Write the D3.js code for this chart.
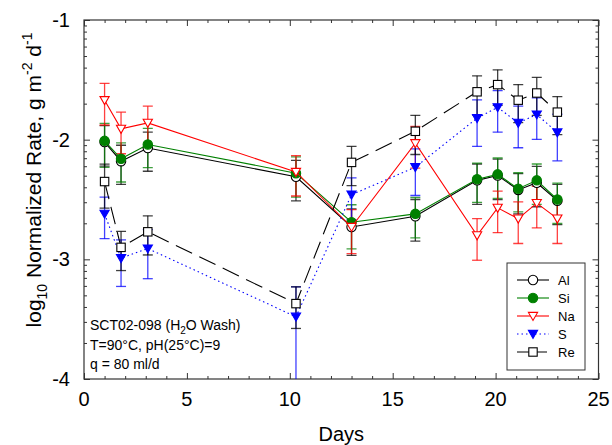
<!DOCTYPE html>
<html>
<head>
<meta charset="utf-8">
<script src="https://cdnjs.cloudflare.com/ajax/libs/d3/7.8.5/d3.min.js"></script>
<style>
    body { margin:0; background:#fff; }
    svg text { font-family: Arial, 'Liberation Sans', sans-serif; fill:#000; }
</style>
</head>
<body>
<svg id="chart" width="612" height="445"></svg>
<script>
(function(window) {
    'use strict';

    // sampling days (x) and log10 normalized rates per element
    var days = [1, 1.8, 3.1, 10.3, 13, 16.1, 19.1, 20.1, 21.1, 22, 23];

    var al = [-2.02, -2.18, -2.07, -2.31, -2.73, -2.64, -2.34, -2.30, -2.42, -2.36, -2.51];
    var si = [-2.01, -2.16, -2.04, -2.28, -2.69, -2.62, -2.33, -2.29, -2.41, -2.34, -2.50];
    var na = [-1.67, -1.91, -1.86, -2.27, -2.73, -2.03, -2.80, -2.57, -2.66, -2.53, -2.66];
    var s  = [-2.62, -2.99, -2.91, -3.48, -2.46, -2.23, -1.82, -1.73, -1.86, -1.79, -1.94];
    var re = [-2.35, -2.90, -2.77, -3.37, -2.19, -1.93, -1.60, -1.54, -1.67, -1.61, -1.77];

    // relative (linear) uncertainty of each rate
    var alErr = [0.37, 0.36, 0.36, 0.37, 0.42, 0.38, 0.37, 0.37, 0.37, 0.37, 0.37];
    var siErr = [0.40, 0.36, 0.36, 0.37, 0.40, 0.37, 0.36, 0.37, 0.36, 0.37, 0.37];
    var naErr = [0.38, 0.38, 0.38, 0.37, 0.40, 0.38, 0.38, 0.38, 0.38, 0.38, 0.38];
    var sErr  = [0.38, 0.42, 0.44, 0.78, 0.38, 0.42, 0.42, 0.38, 0.38, 0.38, 0.42];
    var reErr = [0.40, 0.36, 0.36, 0.38, 0.36, 0.36, 0.36, 0.33, 0.35, 0.35, 0.35];

    var xTicks = [0, 5, 10, 15, 20, 25];
    var yTicks = [-4, -3, -2, -1];

    var series = [
        { name:'Al', y:al, err:alErr, color:'#000000', dash:null,    shape:'circle',   fill:'#fff' },
        { name:'Si', y:si, err:siErr, color:'#008000', dash:null,    shape:'circle',   fill:'#008000' },
        { name:'Na', y:na, err:naErr, color:'#ff0000', dash:null,    shape:'triangle', fill:'#fff' },
        { name:'S',  y:s,  err:sErr,  color:'#0000ff', dash:'1.5,3', shape:'triangle', fill:'#0000ff' },
        { name:'Re', y:re, err:reErr, color:'#000000', dash:'18,8',  shape:'square',   fill:'#fff' }
    ];

    var L = 84, R = 598.5, T = 20, B = 379;

    var svg = d3.select('#chart');

    var x = d3.scaleLinear().domain([0, 25]).range([L, R]);
    var y = d3.scaleLinear().domain([-4, -1]).range([B, T]);

    /******************************************************************
        axes: mirrored ticks on all four sides, log minor ticks on y
     ******************************************************************/
    var xMinor = d3.range(0, 26, 1).filter(function(d){ return d % 5 !== 0; });
    var yMinor = [];
    yTicks.slice(0, -1).forEach(function(d) {
        d3.range(2, 10).forEach(function(k){ yMinor.push(d + Math.log10(k)); });
    });

    function axis(gen, pos, major, minor) {
        var g = svg.append('g').attr('transform', pos);
        g.call(gen.tickValues(minor).tickSize(3).tickFormat(''));
        var h = svg.append('g').attr('transform', pos);
        h.call(gen.tickValues(major).tickSize(6).tickFormat(''));
        [g, h].forEach(function(a) {
            a.select('.domain').remove();
            a.selectAll('line').attr('stroke', '#333');
        });
    }

    axis(d3.axisTop(x),    'translate(0,'+ B +')', xTicks, xMinor);
    axis(d3.axisBottom(x), 'translate(0,'+ T +')', xTicks, xMinor);
    axis(d3.axisRight(y),  'translate('+ L +',0)', yTicks, yMinor);
    axis(d3.axisLeft(y),   'translate('+ R +',0)', yTicks, yMinor);

    svg.append('rect')
        .attr('x', L).attr('y', T)
        .attr('width', R - L).attr('height', B - T)
        .attr('fill', 'none')
        .attr('stroke', '#333')
        .attr('stroke-width', 1.2);

    svg.selectAll('.xl')
        .data(xTicks).enter()
            .append('text')
                .attr('x', function(d){ return x(d); })
                .attr('y', 406)
                .attr('text-anchor', 'middle')
                .style('font-size', '20px')
                .text(function(d){ return d; });

    svg.selectAll('.yl')
        .data(yTicks).enter()
            .append('text')
                .attr('x', 70)
                .attr('y', function(d){ return y(d) + 7; })
                .attr('text-anchor', 'end')
                .style('font-size', '20px')
                .text(function(d){ return d; });

    svg.append('text')
        .attr('x', (L + R) / 2)
        .attr('y', 441)
        .attr('text-anchor', 'middle')
        .style('font-size', '20px')
        .text('Days');

    var yl = svg.append('text')
        .attr('transform', 'translate(41,180) rotate(-90)')
        .attr('text-anchor', 'middle')
        .style('font-size', '21px');
    yl.append('tspan').text('log');
    yl.append('tspan').attr('dy', 6).style('font-size', '14px').text('10');
    yl.append('tspan').attr('dy', -6).text(' Normalized Rate, g m');
    yl.append('tspan').attr('dy', -9).style('font-size', '14px').text('-2');
    yl.append('tspan').attr('dy', 9).text(' d');
    yl.append('tspan').attr('dy', -9).style('font-size', '14px').text('-1');

    /******************************************************************
        data: error bars, lines, markers
     ******************************************************************/
    svg.append('clipPath').attr('id', 'clip')
        .append('rect')
            .attr('x', L).attr('y', T)
            .attr('width', R - L).attr('height', B - T);

    var plot = svg.append('g').attr('clip-path', 'url(#clip)');

    function marker(sel, d) {
        if (d.shape === 'circle')
            sel.append('circle').attr('r', 4.7);
        else if (d.shape === 'square')
            sel.append('rect').attr('x', -4.2).attr('y', -4.2).attr('width', 8.4).attr('height', 8.4);
        else
            sel.append('path').attr('d', 'M-4.6 -3.6 L4.6 -3.6 L0 4.4 Z');

        sel.selectAll('*')
            .attr('fill', d.fill)
            .attr('stroke', d.color)
            .attr('stroke-width', 1.1);
    }

    series.forEach(function(d) {
        var pts = days.map(function(t, i) {
            var e = d.err[i];
            return {
                x: t, y: d.y[i],
                hi: d.y[i] + Math.log10(1 + e),
                lo: e < 1 ? d.y[i] + Math.log10(1 - e) : -10
            };
        });

        var eb = plot.append('g')
            .attr('stroke', d.color)
            .attr('stroke-opacity', 0.75)
            .attr('stroke-width', 1.3);

        pts.forEach(function(p) {
            var cx = x(p.x), y0 = Math.min(y(p.lo), B + 5), y1 = y(p.hi);
            eb.append('line').attr('x1', cx).attr('x2', cx).attr('y1', y0).attr('y2', y1);
            eb.append('line').attr('x1', cx - 5).attr('x2', cx + 5).attr('y1', y1).attr('y2', y1);
            if (y0 < B) eb.append('line').attr('x1', cx - 5).attr('x2', cx + 5).attr('y1', y0).attr('y2', y0);
        });

        d.pts = pts;
    });

    var line = d3.line()
        .x(function(p){ return x(p.x); })
        .y(function(p){ return y(p.y); });

    series.forEach(function(d) {
        plot.append('path')
            .attr('d', line(d.pts))
            .attr('fill', 'none')
            .attr('stroke', d.color)
            .attr('stroke-width', 1.1)
            .attr('stroke-dasharray', d.dash);

        d.pts.forEach(function(p) {
            var m = plot.append('g')
                .attr('transform', 'translate('+ [x(p.x), y(p.y)] +')');
            marker(m, d);
        });
    });

    /******************************************************************
        legend and annotation
     ******************************************************************/
    var leg = svg.append('g').attr('transform', 'translate(507,263)');

    leg.append('rect')
        .attr('width', 78).attr('height', 107)
        .attr('fill', '#fff')
        .attr('stroke', '#333');

    series.forEach(function(d, i) {
        var row = leg.append('g').attr('transform', 'translate(0,'+ (17 + i * 18) +')');
        row.append('line')
            .attr('x1', 10).attr('x2', d.dash === '18,8' ? 44 : 42)
            .attr('stroke', d.color)
            .attr('stroke-width', 1.1)
            .attr('stroke-dasharray', d.dash === '18,8' ? '13,4' : d.dash);
        marker(row.append('g').attr('transform', 'translate(26,0)'), d);
        row.append('text')
            .attr('x', 51).attr('y', 5)
            .style('font-size', '13px')
            .text(d.name);
    });

    var note = svg.append('g').style('font-size', '14px');
    var t1 = note.append('text').attr('x', 90).attr('y', 330);
    t1.append('tspan').text('SCT02-098 (H');
    t1.append('tspan').attr('dy', 4).style('font-size', '10px').text('2');
    t1.append('tspan').attr('dy', -4).text('O Wash)');
    note.append('text').attr('x', 90).attr('y', 350).text('T=90\u00b0C, pH(25\u00b0C)=9');
    note.append('text').attr('x', 90).attr('y', 369).text('q = 80 ml/d');

})(window);
</script>
</body>
</html>
